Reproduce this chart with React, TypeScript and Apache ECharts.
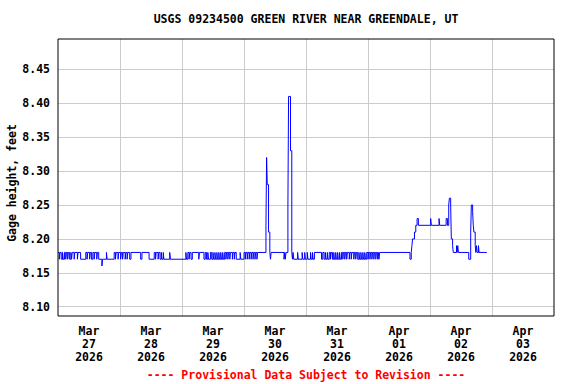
import React, { useEffect, useRef } from "react";
import * as echarts from "echarts";

const TITLE = "USGS 09234500 GREEN RIVER NEAR GREENDALE, UT";
const Y_NAME = "Gage height, feet";
const FOOTER = "---- Provisional Data Subject to Revision ----";

// x axis: hours since 2026-03-27 00:00
const X_MIN = 0;
const X_MAX = 192;
const dayLabelHours = [12, 36, 60, 84, 108, 132, 156, 180];
const dayMonths = ["Mar", "Mar", "Mar", "Mar", "Mar", "Apr", "Apr", "Apr"];
const dayNumbers = ["27", "28", "29", "30", "31", "01", "02", "03"];
const dayYears = ["2026", "2026", "2026", "2026", "2026", "2026", "2026", "2026"];
const midnightHours = [24, 48, 72, 96, 120, 144, 168];

const Y_MIN = 8.0863;
const Y_MAX = 8.4947;
const yTicks = [8.1, 8.15, 8.2, 8.25, 8.3, 8.35, 8.4, 8.45];

// gage height readings: [hour since Mar 27 00:00, feet] (value held until next reading)
const readingsMar27: [number, number][] = [
  [0, 8.18], [0.5, 8.17], [0.75, 8.18], [1.25, 8.17], [1.75, 8.18], [2.0, 8.17],
  [2.5, 8.18], [3.0, 8.17], [3.25, 8.18], [3.75, 8.17], [4.0, 8.18], [4.5, 8.17],
  [5.0, 8.18], [5.25, 8.17], [5.5, 8.18], [6.25, 8.17], [6.5, 8.18], [7.5, 8.17],
  [7.75, 8.18], [8.75, 8.17], [10.75, 8.18], [11.25, 8.17], [11.5, 8.18], [12.25, 8.17],
  [12.5, 8.18], [13.0, 8.17], [13.5, 8.18], [14.0, 8.17], [14.25, 8.18], [15.0, 8.17],
  [15.25, 8.18], [15.75, 8.17], [17.0, 8.16], [17.25, 8.17], [18.75, 8.18], [19.0, 8.17],
  [21.75, 8.18], [22.25, 8.17], [22.5, 8.18], [23.25, 8.17], [23.5, 8.18],
];
const readingsMar28: [number, number][] = [
  [24.25, 8.17], [24.5, 8.18], [25.0, 8.17], [25.25, 8.18], [26.0, 8.17], [26.25, 8.18],
  [26.75, 8.17], [27.0, 8.18], [27.75, 8.17], [28.25, 8.18], [32.0, 8.17], [32.5, 8.18],
  [35.25, 8.17], [37.25, 8.18], [37.75, 8.17], [38.0, 8.18], [38.75, 8.17], [39.0, 8.18],
  [39.5, 8.17], [40.0, 8.18], [40.25, 8.17], [40.75, 8.18], [41.0, 8.17], [43.25, 8.18],
  [43.5, 8.17],
];
const readingsMar29: [number, number][] = [
  [49.5, 8.18], [49.75, 8.17], [50.25, 8.18], [50.75, 8.17], [51.0, 8.18], [51.5, 8.17],
  [52.0, 8.18], [54.5, 8.17], [54.75, 8.18], [56.5, 8.17], [57.0, 8.18], [57.5, 8.17],
  [58.0, 8.18], [58.25, 8.17], [59.0, 8.18], [59.5, 8.17], [60.0, 8.18], [60.25, 8.17],
  [60.75, 8.18], [61.0, 8.17], [61.5, 8.18], [61.75, 8.17], [62.25, 8.18], [62.5, 8.17],
  [63.0, 8.18], [63.25, 8.17], [63.75, 8.18], [64.0, 8.17], [64.5, 8.18], [65.0, 8.17],
  [65.25, 8.18], [65.75, 8.17], [66.0, 8.18], [66.5, 8.17], [66.75, 8.18], [67.5, 8.17],
  [67.75, 8.18], [68.25, 8.17], [68.5, 8.18], [69.0, 8.17], [70.5, 8.18], [70.75, 8.17],
];
const readingsMar30: [number, number][] = [
  [72.0, 8.18], [72.5, 8.17], [72.75, 8.18], [73.25, 8.17], [73.5, 8.18], [74.0, 8.17],
  [74.25, 8.18], [74.75, 8.17], [75.0, 8.18], [75.5, 8.17], [75.75, 8.18], [76.25, 8.17],
  [76.5, 8.18], [77.0, 8.17], [77.25, 8.18], [80.5, 8.22], [80.75, 8.32], [81.0, 8.28],
  [81.5, 8.21], [82.0, 8.18], [82.25, 8.17], [82.5, 8.18], [87.5, 8.17], [87.75, 8.18],
  [88.0, 8.17], [88.25, 8.18], [89.0, 8.25], [89.25, 8.41], [90.0, 8.33], [90.5, 8.18],
  [90.75, 8.17], [91.0, 8.18], [91.25, 8.17], [92.75, 8.18], [93.0, 8.17], [94.5, 8.18],
  [94.75, 8.17], [95.5, 8.18], [95.75, 8.17],
];
const readingsMar31: [number, number][] = [
  [96.5, 8.18], [96.75, 8.17], [97.75, 8.18], [98.0, 8.17], [98.5, 8.18], [98.75, 8.17],
  [99.25, 8.18], [102.0, 8.17], [102.5, 8.18], [103.0, 8.17], [103.5, 8.18], [103.75, 8.17],
  [104.25, 8.18], [104.5, 8.17], [105.0, 8.18], [105.5, 8.17], [105.75, 8.18], [106.25, 8.17],
  [106.75, 8.18], [107.0, 8.17], [107.5, 8.18], [107.75, 8.17], [108.25, 8.18], [108.5, 8.17],
  [109.0, 8.18], [109.25, 8.17], [109.75, 8.18], [110.25, 8.17], [110.5, 8.18], [111.0, 8.17],
  [111.25, 8.18], [111.75, 8.17], [112.0, 8.18], [112.75, 8.17], [113.0, 8.18], [113.5, 8.17],
  [113.75, 8.18], [114.5, 8.17], [114.75, 8.18], [115.25, 8.17], [115.5, 8.18], [116.0, 8.17],
  [116.5, 8.18], [116.75, 8.17], [117.25, 8.18], [117.5, 8.17], [118.0, 8.18], [118.25, 8.17],
  [118.75, 8.18], [119.0, 8.17], [119.5, 8.18],
];
const readingsApr01: [number, number][] = [
  [120.0, 8.17], [120.25, 8.18], [120.75, 8.17], [121.0, 8.18], [121.5, 8.17], [121.75, 8.18],
  [122.25, 8.17], [122.5, 8.18], [123.0, 8.17], [123.25, 8.18], [123.75, 8.17], [124.0, 8.18],
  [124.25, 8.17], [124.5, 8.18], [136.25, 8.17], [136.75, 8.18], [137.0, 8.19], [137.25, 8.2],
  [138.0, 8.21], [138.5, 8.22], [139.0, 8.23], [139.5, 8.22],
];
const readingsApr02: [number, number][] = [
  [144.25, 8.23], [144.5, 8.22], [147.5, 8.23], [147.75, 8.22], [150.25, 8.23], [150.75, 8.22],
  [151.25, 8.25], [151.5, 8.26], [152.0, 8.25], [152.25, 8.2], [152.75, 8.19], [153.0, 8.18],
  [154.25, 8.19], [154.5, 8.18], [154.75, 8.19], [155.0, 8.18], [159.0, 8.17], [159.75, 8.21],
  [160.0, 8.25], [160.5, 8.24], [160.75, 8.22], [161.0, 8.21], [161.5, 8.19], [161.75, 8.18],
  [162.0, 8.19], [162.25, 8.18], [162.75, 8.19], [163.0, 8.18], [166.0, 8.18],
];

const FONT = '"DejaVu Sans Mono", monospace';

export default function App() {
  const ref = useRef<HTMLDivElement>(null);
  useEffect(() => {
    if (!ref.current) return;
    document.body.style.margin = "0";
    const chart = echarts.init(ref.current, undefined, { renderer: "svg" });
    const data = [
      ...readingsMar27, ...readingsMar28, ...readingsMar29, ...readingsMar30,
      ...readingsMar31, ...readingsApr01, ...readingsApr02,
    ];
    const labelStyle = {
      color: "#000",
      fontFamily: FONT,
      fontWeight: "bold" as const,
      fontSize: 11.5,
    };
    chart.setOption({
      animation: false,
      backgroundColor: "#fff",
      grid: {
        left: 58,
        top: 39,
        width: 496,
        height: 277,
        show: true,
        borderColor: "#000",
        borderWidth: 1,
        backgroundColor: "transparent",
        z: 3,
      },
      xAxis: {
        type: "value",
        min: X_MIN,
        max: X_MAX,
        axisLine: { show: false },
        axisTick: { show: false, customValues: midnightHours },
        splitLine: { show: true, lineStyle: { color: "#cccccc", width: 1 } },
        axisLabel: {
          ...labelStyle,
          customValues: dayLabelHours,
          lineHeight: 13,
          margin: 8,
          formatter: (v: number) => {
            const i = dayLabelHours.indexOf(Math.round(v));
            if (i < 0) return "";
            return `${dayMonths[i]}\n${dayNumbers[i]}\n${dayYears[i]}`;
          },
        },
      },
      yAxis: {
        type: "value",
        min: Y_MIN,
        max: Y_MAX,
        axisLine: { show: false },
        axisTick: { show: false, customValues: yTicks },
        splitLine: { show: true, lineStyle: { color: "#cccccc", width: 1 } },
        axisLabel: {
          ...labelStyle,
          customValues: yTicks,
          margin: 8,
          formatter: (v: number) => v.toFixed(2),
        },
      },
      graphic: [
        {
          type: "text",
          x: 306,
          y: 19,
          style: {
            text: TITLE,
            font: `bold 11.5px ${FONT}`,
            fill: "#000",
            align: "center",
            verticalAlign: "middle",
            textAlign: "center",
            textVerticalAlign: "middle",
          },
        },
        {
          type: "text",
          x: 12,
          y: 183,
          rotation: Math.PI / 2,
          style: {
            text: Y_NAME,
            font: `bold 11.5px ${FONT}`,
            fill: "#000",
            align: "center",
            verticalAlign: "middle",
            textAlign: "center",
            textVerticalAlign: "middle",
          },
        },
        {
          type: "text",
          x: 306,
          y: 375,
          style: {
            text: FOOTER,
            font: `bold 11.5px ${FONT}`,
            fill: "#ff0000",
            align: "center",
            verticalAlign: "middle",
            textAlign: "center",
            textVerticalAlign: "middle",
          },
        },
      ],
      series: [
        {
          type: "line",
          step: "end",
          data,
          showSymbol: false,
          symbol: "none",
          lineStyle: { color: "#0000ff", width: 1 },
          clip: true,
          z: 2,
        },
      ],
    });
    return () => chart.dispose();
  }, []);
  return <div ref={ref} style={{ width: 576, height: 384 }} />;
}
